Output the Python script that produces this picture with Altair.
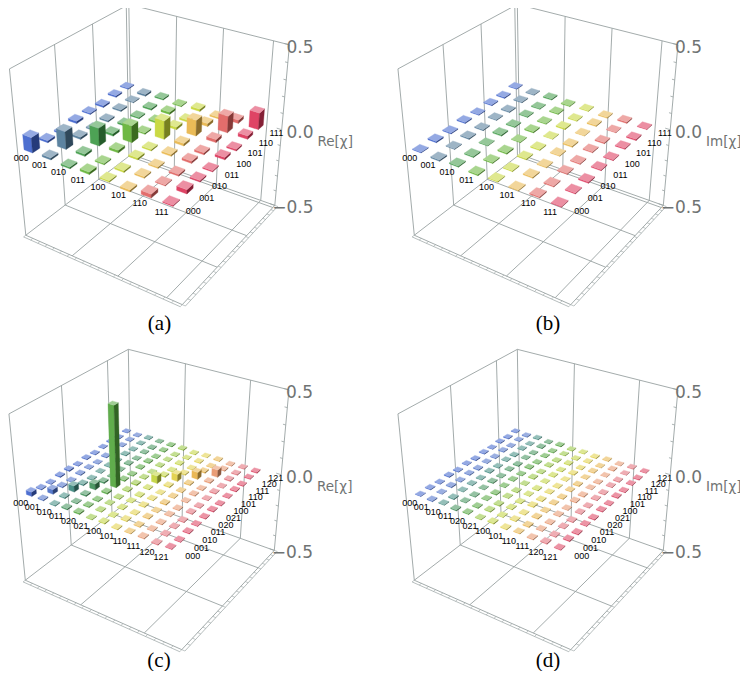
import math
import numpy as np
import pandas as pd
import altair as alt

alt.data_transformers.disable_max_rows()

# ---------------- data ----------------
labels8 = ["000", "001", "010", "011", "100", "101", "110", "111"]
labels12 = ["000", "001", "010", "011", "020", "021", "100", "101", "110", "111", "120", "121"]

re_a = [
    [0.090, 0.012, -0.010, 0.014, 0.008, -0.011, 0.010, 0.006],
    [0.012, 0.105, 0.013, -0.008, -0.010, 0.009, 0.006, -0.011],
    [-0.010, 0.013, 0.105, 0.015, 0.011, -0.008, -0.010, 0.009],
    [0.014, -0.008, 0.015, 0.100, -0.009, 0.011, 0.013, -0.007],
    [0.008, -0.010, 0.011, -0.009, 0.110, 0.015, -0.012, 0.014],
    [-0.011, 0.009, -0.008, 0.011, 0.015, 0.095, 0.018, -0.010],
    [0.022, 0.006, -0.010, 0.013, -0.012, 0.018, 0.100, 0.020],
    [0.006, 0.024, 0.009, -0.007, 0.014, -0.010, 0.020, 0.100],
]

im_b = [
    [0.004, 0.008, -0.006, 0.007, -0.005, 0.006, -0.007, 0.005],
    [-0.008, 0.004, 0.007, -0.006, 0.005, -0.007, 0.006, -0.005],
    [0.006, -0.007, 0.004, 0.008, -0.006, 0.005, -0.005, 0.007],
    [-0.007, 0.006, -0.008, 0.004, 0.007, -0.005, 0.006, -0.006],
    [0.005, -0.005, 0.006, -0.007, 0.004, 0.008, -0.006, 0.005],
    [-0.006, 0.007, -0.005, 0.005, -0.008, 0.004, 0.007, -0.006],
    [0.007, -0.006, 0.005, -0.006, 0.006, -0.007, 0.004, 0.008],
    [-0.005, 0.005, -0.007, 0.006, -0.005, 0.006, -0.008, 0.004],
]

re_c = [
    [0.025, 0.006, -0.005, 0.007, 0.008, -0.004, 0.006, -0.005, 0.004, 0.006, -0.005, 0.004],
    [0.006, 0.027, 0.007, -0.005, 0.006, 0.005, -0.004, 0.006, -0.005, 0.004, 0.005, -0.004],
    [-0.005, 0.007, 0.036, 0.008, -0.006, 0.004, 0.005, -0.004, 0.006, -0.005, 0.004, 0.005],
    [0.007, -0.005, 0.008, 0.035, 0.009, -0.005, 0.004, 0.006, -0.004, 0.005, -0.006, 0.004],
    [0.008, 0.006, -0.006, 0.009, 0.470, 0.007, -0.006, 0.005, 0.007, -0.005, 0.006, 0.005],
    [-0.004, 0.005, 0.004, -0.005, 0.007, 0.008, 0.005, -0.004, 0.005, 0.004, -0.005, 0.006],
    [0.006, -0.004, 0.005, 0.004, -0.006, 0.005, 0.045, 0.008, -0.005, 0.006, 0.004, -0.005],
    [-0.005, 0.006, -0.004, 0.006, 0.005, -0.004, 0.008, 0.042, 0.007, -0.005, 0.006, 0.004],
    [0.004, -0.005, 0.006, -0.004, 0.007, 0.005, -0.005, 0.007, 0.042, 0.008, -0.004, 0.006],
    [0.006, 0.004, -0.005, 0.005, -0.005, 0.004, 0.006, -0.005, 0.008, 0.044, 0.007, -0.005],
    [-0.005, 0.005, 0.004, -0.006, 0.006, -0.005, 0.004, 0.006, -0.004, 0.007, 0.006, 0.005],
    [0.004, -0.004, 0.005, 0.004, 0.005, 0.006, -0.005, 0.004, 0.006, -0.005, 0.005, 0.006],
]

im_d = [
    [0.003, 0.005, -0.004, 0.006, -0.005, 0.004, -0.006, 0.005, -0.004, 0.005, -0.006, 0.004],
    [-0.005, 0.003, 0.006, -0.004, 0.005, -0.006, 0.004, -0.005, 0.006, -0.004, 0.005, -0.006],
    [0.004, -0.006, 0.003, 0.005, -0.004, 0.006, -0.005, 0.004, -0.006, 0.005, -0.004, 0.006],
    [-0.006, 0.004, -0.005, 0.003, 0.006, -0.004, 0.005, -0.006, 0.004, -0.005, 0.006, -0.004],
    [0.005, -0.005, 0.004, -0.006, 0.003, 0.005, -0.004, 0.006, -0.005, 0.004, -0.005, 0.006],
    [-0.004, 0.006, -0.006, 0.004, -0.005, 0.003, 0.006, -0.004, 0.005, -0.006, 0.004, -0.005],
    [0.006, -0.004, 0.005, -0.005, 0.004, -0.006, 0.003, 0.005, -0.004, 0.006, -0.005, 0.004],
    [-0.005, 0.005, -0.004, 0.006, -0.006, 0.004, -0.005, 0.003, 0.006, -0.004, 0.005, -0.006],
    [0.004, -0.006, 0.006, -0.004, 0.005, -0.005, 0.004, -0.006, 0.003, 0.005, -0.004, 0.005],
    [-0.005, 0.004, -0.005, 0.005, -0.004, 0.006, -0.006, 0.004, -0.005, 0.003, 0.006, -0.004],
    [0.006, -0.005, 0.004, -0.006, 0.005, -0.004, 0.005, -0.005, 0.004, -0.006, 0.003, 0.005],
    [-0.004, 0.006, -0.006, 0.004, -0.006, 0.005, -0.004, 0.006, -0.005, 0.004, -0.005, 0.003],
]

colors8 = ["#3d62cc", "#4e7898", "#3e9a46", "#62b234", "#c5d634", "#e8b548", "#e0605e", "#dc3458"]
colors12 = ["#3d62cc", "#4a6ec8", "#3e8a80", "#3f9058", "#52a63c", "#94c43a",
            "#c2d43a", "#e2cf44", "#e8b247", "#e8946a", "#e26a74", "#dc3c5c"]

z_ticks = [0.5, 0.0, -0.5]
z_tick_labels = ["0.5", "0.0", "\u22120.5"]
z_minor = [-0.5, -0.4, -0.3, -0.2, -0.1, 0.0, 0.1, 0.2, 0.3, 0.4, 0.5]
axis_titles = ["Re[\u03c7]", "Im[\u03c7]", "Re[\u03c7]", "Im[\u03c7]"]
captions = ["(a)", "(b)", "(c)", "(d)"]

# ---------------- camera / layout ----------------
AZ, EL, DIST, FOCAL = 33.6, 31.0, 4.4, 836.0
centers = [(153.5, 143.0), (542.0, 143.0), (153.0, 488.0), (542.0, 488.0)]
caption_y = [324, 324, 661, 661]
T0, T1 = 0.052, 0.896      # bar-centre span inside the unit box
ZERO = 0.54                 # box height of the z = 0 plane
HALF = 0.235                # bar half width, in cells
grid_i = {8: [0.32, 0.615, 0.91], 12: [0.38, 0.78]}
grid_j = {8: [0.34, 0.66, 0.975], 12: [0.40, 0.80]}
LINE = "#98a2a2"

sa, ca = math.sin(math.radians(AZ)), math.cos(math.radians(AZ))
se, ce = math.sin(math.radians(EL)), math.cos(math.radians(EL))
FW = np.array([-sa * ce, ca * ce, -se])
RT = np.array([ca, sa, 0.0])
UP = np.array([-sa * se, ca * se, ce])
EYE = np.array([0.5, 0.5, 0.5]) - DIST * FW


def proj(X, Y, Z, c):
    v = np.array([X, Y, Z]) - EYE
    d = v @ FW
    return c[0] + FOCAL * (v @ RT) / d, c[1] - FOCAL * (v @ UP) / d


def depth(X, Y, Z):
    return (np.array([X, Y, Z]) - EYE) @ FW


def mix(hexc, t, target):
    r, g, b = int(hexc[1:3], 16), int(hexc[3:5], 16), int(hexc[5:7], 16)
    tr = 255 if target == "white" else 0
    r, g, b = [round(v + (tr - v) * t) for v in (r, g, b)]
    return "#%02x%02x%02x" % (r, g, b)


def poly_to_area(pts):
    xs = sorted(p[0] for p in pts)
    out = []
    n = len(pts)
    for x in xs:
        ys = []
        for a in range(n):
            (x0, y0), (x1, y1) = pts[a], pts[(a + 1) % n]
            lo, hi = min(x0, x1), max(x0, x1)
            if lo - 1e-9 <= x <= hi + 1e-9:
                if abs(x1 - x0) < 1e-9:
                    ys += [y0, y1]
                else:
                    t = (x - x0) / (x1 - x0)
                    ys.append(y0 + t * (y1 - y0))
        out.append((x, min(ys), max(ys)))
    return out


panels = [
    dict(vals=re_a, labels=labels8, colors=colors8),
    dict(vals=im_b, labels=labels8, colors=colors8),
    dict(vals=re_c, labels=labels12, colors=colors12),
    dict(vals=im_d, labels=labels12, colors=colors12),
]

line_rows, face_rows, lab_rows, zl_rows, title_rows, cap_rows = [], [], [], [], [], []
fid = 0

for p_idx, P in enumerate(panels):
    c = centers[p_idx]
    n = len(P["labels"])
    step = (T1 - T0) / (n - 1)
    hw = HALF * step

    def seg(a, b, w=0.9):
        x1, y1 = proj(*a, c)
        x2, y2 = proj(*b, c)
        line_rows.append(dict(x=x1, y=y1, x2=x2, y2=y2, w=w))

    # face grids
    for g in grid_j[n]:
        seg((0, g, 0), (0, g, 1))
        seg((0, g, 0), (1, g, 0))
    for g in grid_i[n]:
        seg((g, 1, 0), (g, 1, 1))
        seg((g, 0, 0), (g, 1, 0))
    # box edges (back ones)
    for (X, Y) in [(0, 0), (0, 1), (1, 1)]:
        seg((X, Y, 0), (X, Y, 1))
    seg((0, 0, 1), (0, 1, 1))
    seg((0, 1, 1), (1, 1, 1))
    seg((0, 0, 0), (0, 1, 0))
    seg((0, 1, 0), (1, 1, 0))
    seg((0, 0, 0), (1, 0, 0))
    seg((1, 0, 0), (1, 1, 0))
    # axis ladders
    seg((0, -0.018, 0), (1, -0.018, 0), 0.7)
    seg((1.018, 0, 0), (1.018, 1, 0), 0.7)
    for t in np.linspace(0, 1, 21):
        seg((t, 0, 0), (t, -0.018, 0), 0.6)
        seg((1, t, 0), (1.018, t, 0), 0.6)
    for z in z_minor:
        L = 0.03 if z in z_ticks else 0.016
        seg((1, 1, 0.5 + z), (1 - L, 1, 0.5 + z), 0.8)

    # bars, painter's order
    bars = []
    for i in range(n):
        for j in range(n):
            X = T0 + i * step
            Y = T0 + j * step
            bars.append((depth(X, Y, ZERO), i, j, P["vals"][i][j], X, Y))
    bars.sort(key=lambda b: -b[0])
    for _, i, j, val, X, Y in bars:
        base = P["colors"][i]
        z0 = ZERO + min(0.0, val)
        z1 = ZERO + max(0.0, val)
        x0, x1, y0, y1 = X - hw, X + hw, Y - hw, Y + hw
        faces = [
            ([(x0, y0, z0), (x1, y0, z0), (x1, y0, z1), (x0, y0, z1)], mix(base, 0.08, "white")),
            ([(x1, y0, z0), (x1, y1, z0), (x1, y1, z1), (x1, y0, z1)], mix(base, 0.40, "black")),
            ([(x0, y0, z1), (x1, y0, z1), (x1, y1, z1), (x0, y1, z1)], mix(base, 0.45, "white")),
        ]
        for pts3, col in faces:
            pts = [proj(*q, c) for q in pts3]
            for k, (x, ylo, yhi) in enumerate(poly_to_area(pts)):
                face_rows.append(dict(fid=fid, k=k, x=x, y=ylo, y2=yhi, col=col))
            fid += 1

    # tick labels on the two grid axes
    for k, lab in enumerate(P["labels"]):
        x, y = proj(T0 + k * step, T0 - 0.09, ZERO, c)
        lab_rows.append(dict(x=x + 1, y=y + 1, t=lab))
        x, y = proj(T1 + 0.12, T0 + k * step, ZERO, c)
        lab_rows.append(dict(x=x, y=y + 1, t=lab))
    # vertical axis labels
    for z, lab in zip(z_ticks, z_tick_labels):
        _, y = proj(1, 1, 0.5 + z, c)
        zl_rows.append(dict(x=c[0] + 160, y=y + 3, t=lab))
    title_rows.append(dict(x=c[0] + 164, y=c[1] - 1, t=axis_titles[p_idx]))
    cap_rows.append(dict(x=c[0] + 6, y=caption_y[p_idx], t=captions[p_idx]))

lines_df = pd.DataFrame(line_rows)
faces_df = pd.DataFrame(face_rows)

xs = alt.Scale(domain=[8, 740], range=[0, 732], nice=False, zero=False)
ys = alt.Scale(domain=[8, 671], range=[0, 663], nice=False, zero=False)

lines = alt.Chart(lines_df).mark_rule(color=LINE).encode(
    x=alt.X("x:Q", scale=xs, axis=None),
    y=alt.Y("y:Q", scale=ys, axis=None),
    x2="x2:Q",
    y2="y2:Q",
    strokeWidth=alt.StrokeWidth("w:Q", scale=None),
)

faces = alt.Chart(faces_df).mark_area(orient="vertical", interpolate="linear", strokeWidth=0.35).encode(
    x=alt.X("x:Q", scale=xs, axis=None),
    y=alt.Y("y:Q", scale=ys, axis=None, stack=None),
    y2="y2:Q",
    fill=alt.Fill("col:N", scale=None),
    stroke=alt.Stroke("col:N", scale=None),
    detail="fid:N",
)


def text_layer(rows, **kw):
    return alt.Chart(pd.DataFrame(rows)).mark_text(**kw).encode(
        x=alt.X("x:Q", scale=xs, axis=None),
        y=alt.Y("y:Q", scale=ys, axis=None),
        text="t:N",
    )


labs = text_layer(lab_rows, font="Liberation Sans", fontSize=9, color="black", align="center", baseline="middle")
zlabs = text_layer(zl_rows, font="DejaVu Sans", fontSize=17, color="#6f7373", align="right", baseline="middle")
titles = text_layer(title_rows, font="DejaVu Sans", fontSize=13.5, color="#6f7373", align="left", baseline="middle")
caps = text_layer(cap_rows, font="Liberation Serif", fontSize=21, color="black", align="center", baseline="middle")

chart = alt.layer(lines, faces, labs, zlabs, titles, caps).properties(
    width=732, height=663, padding=0, autosize=alt.AutoSizeParams(type="none")
).configure_view(stroke=None)

chart.save("out.html", embed_options={"renderer": "svg", "actions": False})
